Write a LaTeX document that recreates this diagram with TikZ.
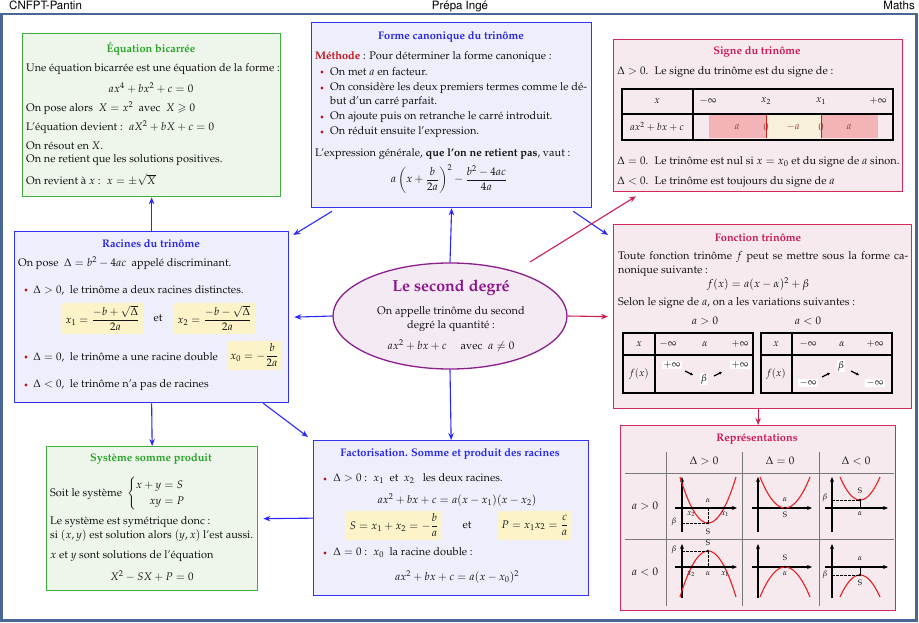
\documentclass[tikz,border=0pt]{standalone}
\usepackage[T1]{fontenc}
\usepackage{mathpazo}
\usepackage{amsmath,amssymb}
\usetikzlibrary{shapes.geometric,arrows.meta,calc}
\definecolor{gborder}{RGB}{60,175,60}
\definecolor{gfill}{RGB}{238,245,234}
\definecolor{gtitle}{RGB}{40,165,40}
\definecolor{bborder}{RGB}{50,50,245}
\definecolor{bfill}{RGB}{238,238,252}
\definecolor{btitle}{RGB}{40,40,235}
\definecolor{rborder}{RGB}{210,40,90}
\definecolor{rfill}{RGB}{246,234,238}
\definecolor{rtitle}{RGB}{205,25,85}
\definecolor{pborder}{RGB}{140,30,140}
\definecolor{pfill}{RGB}{244,234,244}
\definecolor{ptitle}{RGB}{140,20,140}
\definecolor{yfill}{RGB}{252,244,200}
\definecolor{framec}{RGB}{72,102,150}
\definecolor{arrblue}{RGB}{40,40,250}
\definecolor{arrred}{RGB}{205,30,80}
\definecolor{bulred}{RGB}{190,20,30}
\definecolor{methred}{RGB}{200,20,20}
\definecolor{txt}{RGB}{20,20,20}
\definecolor{cellred}{RGB}{242,180,182}
\definecolor{cellbeige}{RGB}{248,240,218}
\definecolor{zerored}{RGB}{200,30,30}
\definecolor{celltxt}{RGB}{150,60,60}
\definecolor{gridgray}{RGB}{120,120,120}
\definecolor{curvered}{RGB}{235,30,30}
\newcommand\bodyfs{\fontsize{11}{13.5}\selectfont}
\newcommand\ttlfs{\fontsize{11}{13}\selectfont\bfseries}
\newcommand\hdrfs{\fontfamily{phv}\fontsize{11.5}{13}\selectfont}
\begin{document}
\begin{tikzpicture}[x=1pt,y=-1pt,
  mybox/.style={draw, line width=1.3pt, inner sep=0pt, anchor=north west},
  gbox/.style={mybox, draw=gborder, fill=gfill},
  bbox/.style={mybox, draw=bborder, fill=bfill},
  rbox/.style={mybox, draw=rborder, fill=rfill},
  tl/.style={anchor=west, inner sep=0pt, font=\bodyfs, text=txt},
  tc/.style={anchor=center, inner sep=0pt, font=\bodyfs, text=txt},
  ttl/.style={anchor=center, inner sep=0pt, font=\ttlfs},
  hdr/.style={anchor=base, inner sep=0pt, font=\hdrfs, text=black},
  bul/.style={circle, fill=bulred, inner sep=0pt, minimum size=3.2pt},
  ybox/.style={fill=yfill, inner sep=0pt, font=\bodyfs, text=txt},
  barrow/.style={draw=arrblue, line width=1.1pt, -{Stealth[length=7pt,width=5.5pt]}},
  rarrow/.style={draw=arrred, line width=1.1pt, -{Stealth[length=7pt,width=5.5pt]}},
  tline/.style={line width=1.1pt, draw=black},
  sm/.style={inner sep=0pt, font=\fontsize{8}{9}\selectfont, text=txt},
  axisar/.style={line width=1.2pt, -{Stealth[length=5pt,width=4pt]}},
  para/.style={draw=curvered, line width=1.1pt},
  dsh/.style={line width=0.8pt, dash pattern=on 2.5pt off 1.5pt},
  vdot/.style={circle, fill=black, inner sep=0pt, minimum size=2.6pt},
  varr/.style={line width=1.2pt, -{Stealth[length=3pt,width=3pt]}},
  inf/.style={fill=white, inner sep=1pt, font=\fontsize{10}{12}\selectfont, text=txt},
  tabt/.style={inner sep=0pt, font=\fontsize{10}{12}\selectfont, text=txt}
]
\useasboundingbox (0,0) rectangle (919,623);
\draw[framec, line width=2.5pt] (1.5,14) rectangle (916.5,620.5);
% headers
\node[hdr, anchor=base west] (h1) at (9,10) {CNFPT-Pantin};
\node[hdr] (h2) at (460,10) {Prépa Ingé};
\node[hdr, anchor=base east] (h3) at (915,10) {Maths};

% boxes
\node[gbox, minimum width=258pt, minimum height=163pt] (bic) at (22,33) {};
\node[bbox, minimum width=280pt, minimum height=185pt] (fc) at (311,22) {};
\node[rbox, minimum width=289pt, minimum height=152pt] (sig) at (613,39) {};
\node[bbox, minimum width=274pt, minimum height=171pt] (rac) at (14,231) {};
\node[ellipse, draw=pborder, fill=pfill, line width=1.3pt, minimum width=234pt, minimum height=106pt, inner sep=0pt] (ell) at (450,316) {};
\node[rbox, minimum width=298pt, minimum height=184pt] (fon) at (613,224) {};
\node[gbox, minimum width=211pt, minimum height=144pt] (sys) at (46,446) {};
\node[bbox, minimum width=275pt, minimum height=155pt] (fac) at (313,440) {};
\node[rbox, minimum width=275pt, minimum height=185pt] (rep) at (620,425) {};

% connectors
\draw[barrow] (rac.north) -- (bic.south);
\draw[barrow] ([xshift=21pt,yshift=-3pt]fc.south west) -- ([xshift=4pt,yshift=-4pt]rac.north east);
\draw[barrow] (ell.north) -- (fc.south);
\draw[barrow] ([xshift=-19pt,yshift=-3pt]fc.south east) -- ([xshift=-5pt,yshift=-11pt]fon.north west);
\draw[rarrow] ([xshift=80pt,yshift=54pt]ell.center) -- ([xshift=23pt,yshift=-4pt]sig.south west);
\draw[barrow] (ell.west) -- ([xshift=5pt]rac.east);
\draw[rarrow] (ell.east) -- ([xshift=-5pt]fon.west);
\draw[barrow] (ell.south) -- (fac.north);
\draw[barrow] (rac.south) -- (sys.north);
\draw[barrow] ([xshift=-26pt]rac.south east) -- ([xshift=-5pt,yshift=3pt]fac.north west);
\draw[barrow] (fac.west) -- ([xshift=5pt]sys.east);
\draw[rarrow] (fon.south -| rep.north) -- (rep.north);

% Equation bicarree
\node[ttl, text=gtitle] (bict) at (151,49) {Équation bicarrée};
\node[tl] (bic1) at (26,69) {Une équation bicarrée est une équation de la forme :};
\node[tc] (bic2) at (151,88) {$ax^4+bx^2+c=0$};
\node[tl] (bic3) at (26,108) {On pose alors \ $X=x^2$ \ avec \ $X\geqslant 0$};
\node[tl] (bic4) at (26,127) {L'équation devient : \ $aX^2+bX+c=0$};
\node[tl] (bic5) at (26,146) {On résout en $X$.};
\node[tl] (bic6) at (26,160) {On ne retient que les solutions positives.};
\node[tl] (bic7) at (26,180) {On revient à $x$ : \ $x=\pm\sqrt{X}$};

% Forme canonique
\node[ttl, text=btitle] (fct) at (451,37) {Forme canonique du trinôme};
\node[tl] (fc1) at (315,57) {\textcolor{methred}{\textbf{Méthode}} : Pour déterminer la forme canonique :};
\node[bul] (fcb1) at (322,72) {};
\node[tl] (fc2) at (330,72) {On met $a$ en facteur.};
\node[bul] (fcb2) at (322,88) {};
\node[tl] (fc3) at (330,88) {On considère les deux premiers termes comme le dé-};
\node[tl] (fc4) at (330,102) {but d'un carré parfait.};
\node[bul] (fcb3) at (322,117) {};
\node[tl] (fc5) at (330,117) {On ajoute puis on retranche le carré introduit.};
\node[bul] (fcb4) at (322,132) {};
\node[tl] (fc6) at (330,132) {On réduit ensuite l'expression.};
\node[tl] (fc7) at (315,154) {L'expression générale, \textbf{que l'on ne retient pas}, vaut :};
\node[tc] (fc8) at (449,179) {$a\left(x+\dfrac{b}{2a}\right)^2-\dfrac{b^2-4ac}{4a}$};

% Signe du trinome
\node[ttl, text=rtitle] (sigt) at (757,52) {Signe du trinôme};
\node[tl] (sig1) at (617,72) {$\Delta>0$. \ Le signe du trinôme est du signe de :};
\fill[cellred] (709,115) rectangle (766,138);
\fill[cellbeige] (766,115) rectangle (821,138);
\fill[cellred] (821,115) rectangle (878,138);
\draw[zerored, line width=1pt] (766,115) -- (766,138) (821,115) -- (821,138);
\draw[tline] (622,89) rectangle (893,140);
\draw[tline] (622,114) -- (893,114) (693,89) -- (693,140);
\node[tabt] (st1) at (657,101) {$x$};
\node[tabt] (st2) at (708,101) {$-\infty$};
\node[tabt] (st3) at (766,101) {$x_2$};
\node[tabt] (st4) at (821,101) {$x_1$};
\node[tabt] (st5) at (878,101) {$+\infty$};
\node[tabt] (st6) at (657,127) {$ax^2+bx+c$};
\node[tabt, text=celltxt] (st7) at (737,127) {$a$};
\node[tabt, text=celltxt] (st8) at (766,127) {$0$};
\node[tabt, text=celltxt] (st9) at (793,127) {$-a$};
\node[tabt, text=celltxt] (st10) at (821,127) {$0$};
\node[tabt, text=celltxt] (st11) at (849,127) {$a$};
\node[tl] (sig2) at (617,162) {$\Delta=0$. \ Le trinôme est nul si $x=x_0$ et du signe de $a$ sinon.};
\node[tl] (sig3) at (617,182) {$\Delta<0$. \ Le trinôme est toujours du signe de $a$};

% Racines du trinome
\node[ttl, text=btitle] (ract) at (151,244) {Racines du trinôme};
\node[tl] (rac1) at (18,263) {On pose \ $\Delta=b^2-4ac$ \ appelé discriminant.};
\node[bul] (racb1) at (26,290) {};
\node[tl] (rac2) at (33,290) {$\Delta>0$, \ le trinôme a deux racines distinctes.};
\node[ybox, minimum width=81pt, minimum height=31pt] (racy1) at (102.5,318) {$x_1=\dfrac{-b+\sqrt{\Delta}}{2a}$};
\node[tc] (racet) at (158,318) {et};
\node[ybox, minimum width=81pt, minimum height=31pt] (racy2) at (214.5,318) {$x_2=\dfrac{-b-\sqrt{\Delta}}{2a}$};
\node[bul] (racb2) at (26,357) {};
\node[tl] (rac3) at (33,357) {$\Delta=0$, \ le trinôme a une racine double};
\node[ybox, minimum width=55pt, minimum height=29pt] (racy3) at (254.5,355.5) {$x_0=-\dfrac{b}{2a}$};
\node[bul] (racb3) at (26,385) {};
\node[tl] (rac4) at (33,385) {$\Delta<0$, \ le trinôme n'a pas de racines};

% Ellipse
\node[inner sep=0pt, font=\fontsize{16}{18}\selectfont\bfseries, text=ptitle] (ellt) at (451,288) {Le second degré};
\node[tc] (ell1) at (451,312) {On appelle trinôme du second};
\node[tc] (ell2) at (451,326) {degré la quantité :};
\node[tc] (ell3) at (451,346) {$ax^2+bx+c$ \quad avec \ $a\neq0$};

% Fonction trinome
\node[ttl, text=rtitle] (font) at (758,238) {Fonction trinôme};
\node[tl] (fon1) at (618,257) {\makebox[290pt][s]{Toute fonction trinôme $f$ peut se mettre sous la forme ca-}};
\node[tl] (fon2) at (618,271) {nonique suivante :};
\node[tc] (fon3) at (758,284) {$f(x)=a(x-\alpha)^2+\beta$};
\node[tl] (fon4) at (618,303) {Selon le signe de $a$, on a les variations suivantes :};
\node[tc] (fon5) at (705,321) {$a>0$};
\node[tc] (fon6) at (808,321) {$a<0$};
\draw[tline] (623,333) rectangle (753,393);
\draw[tline] (623,355) -- (753,355) (655,333) -- (655,393);
\draw[tline] (761,333) rectangle (892,393);
\draw[tline] (761,355) -- (892,355) (792,333) -- (792,393);
\node[tabt] (ft1) at (639,344) {$x$};
\node[tabt] (ft2) at (668,344) {$-\infty$};
\node[tabt] (ft3) at (705,344) {$\alpha$};
\node[tabt] (ft4) at (740,344) {$+\infty$};
\node[tabt] (ft5) at (639,374) {$f(x)$};
\node[inf] (ft6) at (672,365) {$+\infty$};
\node[inf] (ft7) at (704,379) {$\beta$};
\node[inf] (ft8) at (740,365) {$+\infty$};
\draw[varr] (685,371) -- (693,375);
\draw[varr] (714,376) -- (722,372);
\node[tabt] (fu1) at (776,344) {$x$};
\node[tabt] (fu2) at (808,344) {$-\infty$};
\node[tabt] (fu3) at (842,344) {$\alpha$};
\node[tabt] (fu4) at (875,344) {$+\infty$};
\node[tabt] (fu5) at (776,374) {$f(x)$};
\node[inf] (fu6) at (808,383) {$-\infty$};
\node[inf] (fu7) at (841,366) {$\beta$};
\node[inf] (fu8) at (875,383) {$-\infty$};
\draw[varr] (822,377) -- (830,373);
\draw[varr] (851,371) -- (859,375);

% Systeme somme produit
\node[ttl, text=gtitle] (syst) at (151,459) {Système somme produit};
\node[tl] (sys1) at (50,494) {Soit le système};
\node[tc] (sys2) at (156,494) {$\left\{\begin{aligned} x+y&=S\\ xy&=P\end{aligned}\right.$};
\node[tl] (sys3) at (50,522) {Le système est symétrique donc :};
\node[tl] (sys4) at (50,536) {si $(x,y)$ est solution alors $(y,x)$ l'est aussi.};
\node[tl] (sys5) at (50,556) {$x$ et $y$ sont solutions de l'équation};
\node[tc] (sys6) at (152,576) {$X^2-SX+P=0$};

% Factorisation
\node[ttl, text=btitle] (fact) at (450,454) {Factorisation. Somme et produit des racines};
\node[bul] (facb1) at (325,479) {};
\node[tl] (fac1) at (333,479) {$\Delta>0$ : \ $x_1$ \ et \ $x_2$ \ \ les deux racines.};
\node[tc] (fac2) at (457,500) {$ax^2+bx+c=a(x-x_1)(x-x_2)$};
\node[ybox, minimum width=96pt, minimum height=29pt] (facy1) at (394,525.5) {$S=x_1+x_2=-\dfrac{b}{a}$};
\node[tc] (facet) at (467,525) {et};
\node[ybox, minimum width=74pt, minimum height=29pt] (facy2) at (535,525.5) {$P=x_1x_2=\dfrac{c}{a}$};
\node[bul] (facb2) at (325,553) {};
\node[tl] (fac3) at (333,553) {$\Delta=0$ : \ $x_0$ \ la racine double :};
\node[tc] (fac4) at (457,577) {$ax^2+bx+c=a(x-x_0)^2$};

% Representations
\node[ttl, text=rtitle] (rept) at (757,439) {Représentations};
\draw[gridgray, line width=1pt] (666,452) -- (666,606) (742,452) -- (742,606) (819,452) -- (819,606) (625,473) -- (894,473) (625,539) -- (894,539);
\node[tc] (rh1) at (704,461) {$\Delta>0$};
\node[tc] (rh2) at (780,461) {$\Delta=0$};
\node[tc] (rh3) at (856,461) {$\Delta<0$};
\node[tc] (rr1) at (645,506) {$a>0$};
\node[tc] (rr2) at (645,572) {$a<0$};
% cell 1
\begin{scope}[shift={(666,473)}]
\draw[axisar] (16,59) -- (16,4);
\draw[axisar] (9,35) -- (71,35);
\draw[para, domain=14:70, samples=50] plot (\x, {50-0.0587*(\x-42)^2});
\draw[dsh] (16,50) -- (42,50) (42,35) -- (42,50);
\node[vdot] (c1v) at (42,50) {};
\node[vdot] (c1a) at (26,35) {};
\node[vdot] (c1b) at (58,35) {};
\node[sm] (c1l1) at (42,28) {$\alpha$};
\node[sm] (c1l2) at (25,41) {$x_2$};
\node[sm] (c1l3) at (59,41) {$x_1$};
\node[sm] (c1l4) at (8,49) {$\beta$};
\node[sm] (c1l5) at (42,59) {S};
\end{scope}
% cell 2
\begin{scope}[shift={(742,473)}]
\draw[axisar] (16,59) -- (16,4);
\draw[axisar] (10,35) -- (70,35);
\draw[para, domain=18:68, samples=50] plot (\x, {35-0.0496*(\x-43)^2});
\node[vdot] (c2v) at (43,35) {};
\node[sm] (c2l1) at (43,27) {$\alpha$};
\node[sm] (c2l2) at (43,42) {S};
\end{scope}
% cell 3
\begin{scope}[shift={(819,473)}]
\draw[axisar] (13,59) -- (13,4);
\draw[axisar] (6,35) -- (69,35);
\draw[para, domain=21:61, samples=50] plot (\x, {27-0.0575*(\x-41)^2});
\draw[dsh] (13,27) -- (41,27);
\draw[line width=1pt] (41,27) -- (41,35);
\node[vdot] (c3v) at (41,27) {};
\node[sm] (c3l1) at (41,18) {S};
\node[sm] (c3l2) at (6,25) {$\beta$};
\node[sm] (c3l3) at (41,41) {$\alpha$};
\end{scope}
% cell 4
\begin{scope}[shift={(666,539)}]
\draw[axisar] (16,59) -- (16,5);
\draw[axisar] (9,28) -- (71,28);
\draw[para, domain=14:70, samples=50] plot (\x, {12+0.0587*(\x-42)^2});
\draw[dsh] (16,12) -- (42,12) (42,12) -- (42,28);
\node[vdot] (c4v) at (42,12) {};
\node[vdot] (c4a) at (25.5,28) {};
\node[vdot] (c4b) at (58.5,28) {};
\node[sm] (c4l1) at (8,11) {$\beta$};
\node[sm] (c4l2) at (42,4) {S};
\node[sm] (c4l3) at (25,35) {$x_2$};
\node[sm] (c4l4) at (42,35) {$\alpha$};
\node[sm] (c4l5) at (59,35) {$x_1$};
\end{scope}
% cell 5
\begin{scope}[shift={(742,539)}]
\draw[axisar] (16,59) -- (16,5);
\draw[axisar] (10,28) -- (70,28);
\draw[para, domain=18:68, samples=50] plot (\x, {28+0.048*(\x-43)^2});
\node[vdot] (c5v) at (43,28) {};
\node[sm] (c5l1) at (43,19) {S};
\node[sm] (c5l2) at (43,35) {$\alpha$};
\end{scope}
% cell 6
\begin{scope}[shift={(819,539)}]
\draw[axisar] (13,59) -- (13,5);
\draw[axisar] (6,28) -- (69,28);
\draw[para, domain=21:61, samples=50] plot (\x, {36+0.055*(\x-41)^2});
\draw[dsh] (13,36) -- (41,36);
\draw[line width=1pt] (41,28) -- (41,36);
\node[vdot] (c6v) at (41,36) {};
\node[sm] (c6l1) at (41,20) {$\alpha$};
\node[sm] (c6l2) at (6,36) {$\beta$};
\node[sm] (c6l3) at (41,44) {S};
\end{scope}
\end{tikzpicture}
\end{document}
